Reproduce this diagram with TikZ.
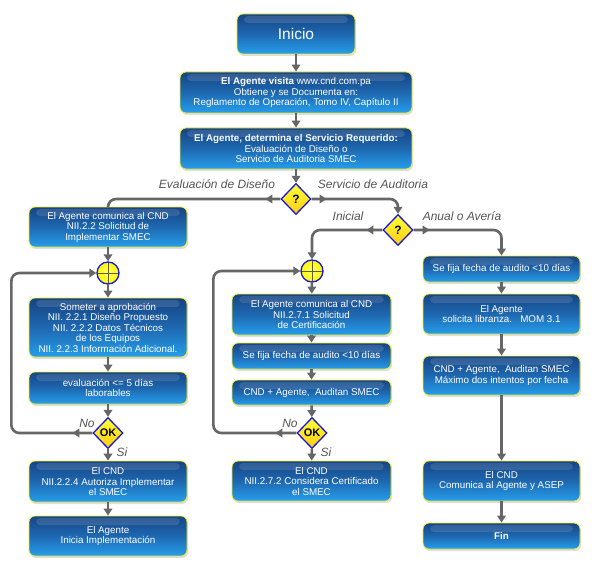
\documentclass[tikz,border=0pt]{standalone}
\usepackage{fontspec}
\setmainfont{Liberation Sans}
\usetikzlibrary{shapes.geometric,arrows.meta,shadows,decorations.markings}

\definecolor{boxtop}{RGB}{22,68,132}
\definecolor{boxmid}{RGB}{30,104,176}
\definecolor{boxbot}{RGB}{38,158,236}
\definecolor{boxrim}{RGB}{236,236,40}
\definecolor{linegray}{RGB}{102,102,102}
\definecolor{labelgray}{RGB}{85,85,85}
\definecolor{qfill}{RGB}{255,204,20}
\definecolor{qrim}{RGB}{24,24,220}

\begin{document}
\begin{tikzpicture}[x=1pt,y=-1pt,
  every node/.style={font=\fontsize{9.8}{10.5}\selectfont},
  paso/.style={rectangle, rounded corners=6pt, draw=boxrim, line width=0.8pt,
    top color=boxtop, bottom color=boxbot, middle color=boxmid,
    text=white, align=center, inner sep=1pt, minimum width=#1,
    drop shadow={shadow xshift=1pt, shadow yshift=-2pt, opacity=0.25},
    path picture={\fill[white, opacity=0.12, rounded corners=4pt]
      ([xshift=7pt,yshift=-2pt]path picture bounding box.north west) rectangle
      ([xshift=-7pt,yshift=-9pt]path picture bounding box.north east);}},
  paso/.default=158pt,
  pregunta/.style={diamond, draw=qrim, line width=1.3pt, top color=yellow!80!white,
    bottom color=qfill, text=black, inner sep=0pt, minimum width=30pt,
    minimum height=31pt, font=\bfseries\fontsize{12}{12}\selectfont},
  union/.style={circle, draw=qrim, line width=1.3pt, inner color=yellow!55!white,
    outer color=yellow!95!orange, minimum size=22pt, inner sep=0pt,
    path picture={\draw[olive!60!black, line width=0.5pt]
      (path picture bounding box.north) -- (path picture bounding box.south)
      (path picture bounding box.west) -- (path picture bounding box.east);}},
  rotulo/.style={text=labelgray, font=\itshape\fontsize{12}{12}\selectfont},
  flujo/.style={draw=linegray, line width=2.6pt, rounded corners=8pt,
    -{Triangle[length=7pt,width=8.5pt]}},
  medio/.style={postaction={decorate, decoration={markings,
    mark=at position #1 with {\arrow[linegray]{Triangle[length=7pt,width=8.5pt]}}}}}]

\useasboundingbox (0,0) rectangle (596,572);

% tronco
\node[paso=118pt, minimum height=40pt, font=\fontsize{15.5}{15.5}\selectfont] (inicio) at (296,34) {Inicio};
\node[paso=232pt, minimum height=41pt] (visita) at (296,92.5)
  {\textbf{El Agente visita} www.cnd.com.pa\\Obtiene y se Documenta en:\\Reglamento de Operación, Tomo IV, Capítulo II};
\node[paso=232pt, minimum height=41pt] (servicio) at (296,148.5)
  {\textbf{El Agente, determina el Servicio Requerido:}\\Evaluación de Diseño o\\Servicio de Auditoria SMEC};
\node[pregunta] (q1) at (296,199) {?};
\node[pregunta] (q2) at (398,230) {?};

% evaluacion de diseno
\node[paso, minimum height=40pt] (solicitud) at (108,227) {El Agente comunica al CND\\NII.2.2 Solicitud de\\Implementar SMEC};
\node[union] (u1) at (108,273) {};
\node[paso, minimum height=59pt] (someter) at (108,327.5)
  {Someter a aprobación\\NII. 2.2.1 Diseño Propuesto\\NII. 2.2.2 Datos Técnicos\\de los Equipos\\NII. 2.2.3 Información Adicional.};
\node[paso, minimum height=32pt] (evalua) at (108,388) {evaluación <= 5 días\\laborables};
\node[pregunta, font=\bfseries\fontsize{11}{11}\selectfont] (ok1) at (108,433) {OK};
\node[paso, minimum height=41pt] (autoriza) at (108,481.5) {El CND\\NII.2.2.4 Autoriza Implementar\\el SMEC};
\node[paso, minimum height=40pt] (implementa) at (108,536) {El Agente\\Inicia Implementación};

% auditoria inicial
\node[union] (u2) at (312,271) {};
\node[paso=159pt, minimum height=41pt] (certif) at (311.5,314.5) {El Agente comunica al CND\\NII.2.7.1 Solicitud\\de Certificación};
\node[paso=159pt, minimum height=26pt] (fecha1) at (311.5,356) {Se fija fecha de audito <10 días};
\node[paso=159pt, minimum height=25pt] (audita1) at (311.5,392.5) {CND + Agente,\ \ Auditan SMEC};
\node[pregunta, font=\bfseries\fontsize{11}{11}\selectfont] (ok2) at (312,433) {OK};
\node[paso=159pt, minimum height=40pt] (considera) at (311.5,481) {El CND\\NII.2.7.2 Considera Certificado\\el SMEC};

% auditoria anual o averia
\node[paso=157pt, minimum height=26pt] (fecha2) at (501.5,269) {Se fija fecha de audito <10 días};
\node[paso=157pt, minimum height=40pt] (libranza) at (501.5,314) {El Agente\\solicita libranza.\ \ \ MOM 3.1};
\node[paso=157pt, minimum height=39pt] (audita2) at (501.5,375.5) {CND + Agente,\ \ Auditan SMEC\\Máximo dos intentos por fecha};
\node[paso=157pt, minimum height=40pt] (comunica) at (501.5,481) {El CND\\Comunica al Agente y ASEP};
\node[paso=157pt, minimum height=26pt] (fin) at (501.5,536) {\textbf{Fin}};

% rotulos
\node[rotulo] (rdis) at (217,184) {Evaluación de Diseño};
\node[rotulo] (raud) at (373,184) {Servicio de Auditoria};
\node[rotulo] (rini) at (348,216) {Inicial};
\node[rotulo] (ranu) at (462,216) {Anual o Avería};
\node[rotulo] (rno1) at (87,423) {No};
\node[rotulo] (rsi1) at (122,452) {Si};
\node[rotulo] (rno2) at (290,423) {No};
\node[rotulo] (rsi2) at (326,452) {Si};

% conectores
\draw[flujo] (inicio) -- (visita);
\draw[flujo] (visita) -- (servicio);
\draw[flujo] (servicio) -- (q1);
\draw[flujo, -, medio=15pt] (q1.west) -| (solicitud.north);
\draw[flujo, medio=15pt] (q1.east) -| (q2.north);
\draw[flujo, medio=16pt] (q2.west) -| (u2.north);
\draw[flujo, medio=16pt] (q2.east) -| (fecha2.north);

\draw[flujo] (solicitud) -- (u1);
\draw[flujo] (u1) -- (someter);
\draw[flujo] (someter) -- (evalua);
\draw[flujo] (evalua) -- (ok1);
\draw[flujo] (ok1) -- (autoriza);
\draw[flujo] (autoriza) -- (implementa);
\draw[flujo, medio=20pt] (ok1.west) -- ++(-81,0) |- (u1.west);

\draw[flujo] (u2) -- (certif);
\draw[flujo] (certif) -- (fecha1);
\draw[flujo] (fecha1) -- (audita1);
\draw[flujo] (audita1) -- (ok2);
\draw[flujo] (ok2) -- (considera);
\draw[flujo, medio=21pt] (ok2.west) -- ++(-83,0) |- (u2.west);

\draw[flujo] (fecha2) -- (libranza);
\draw[flujo] (libranza) -- (audita2);
\draw[flujo] (audita2) -- (comunica);
\draw[flujo] (comunica) -- (fin);
\end{tikzpicture}
\end{document}
